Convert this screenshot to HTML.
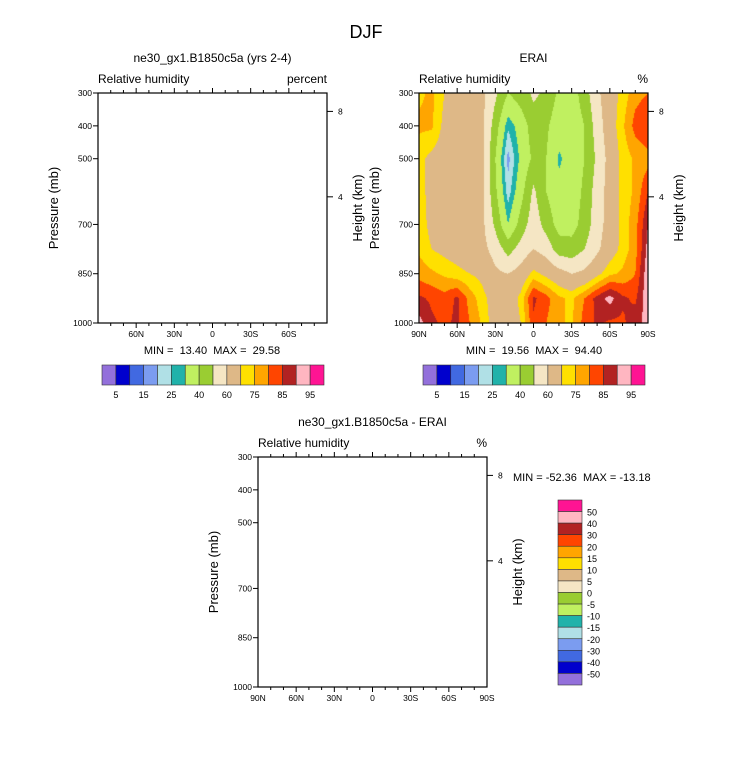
<!DOCTYPE html>
<html><head><meta charset="utf-8">
<style>
body{margin:0;background:#fff;}
svg text{font-family:"Liberation Sans",Arial,sans-serif;fill:#000;}
#wrap{position:relative;width:733px;height:784px;}
canvas{position:absolute;left:419px;top:93px;}
svg{position:absolute;left:0;top:0;}
</style></head>
<body>
<div id="wrap">
<canvas id="cv" width="229" height="230"></canvas>
<svg id="sv" width="733" height="784"></svg>
</div>
<script>
// ---- data ----
const lats = [90,80,70,60,50,40,30,20,10,0,-10,-20,-30,-40,-50,-60,-70,-80,-90];
const levels = [300,400,500,600,700,775,850,925,1000];
const rh300 = [74,76,70,66,62,62,52,40,45,52,48,38,35,45,58,66,72,78,80];
const rh400 = [76,76,68,65,62,62,45,26,34,45,42,33,33,40,55,66,74,82,85];
const rh500 = [72,68,66,64,62,62,40,18,32,42,40,29,33,40,52,64,72,76,78];
const rh600 = [72,68,66,64,62,62,42,22,36,52,40,32,34,42,55,64,72,76,85];
const rh700 = [73,68,66,64,62,62,48,30,44,56,46,36,36,44,56,64,72,78,90];
const rh775 = [74,70,68,66,64,63,56,46,54,60,56,45,44,50,58,66,72,78,92];
const rh850 = [78,76,74,72,70,68,62,60,64,72,68,64,60,62,68,74,76,80,94];
const rh925 = [86,84,82,86,78,72,66,64,72,86,82,76,74,80,87,92,86,84,94];
const rh1000 = [92,86,84,86,80,74,66,64,70,84,80,76,74,82,86,84,84,88,92];
const rhRows = [rh300,rh400,rh500,rh600,rh700,rh775,rh850,rh925,rh1000];
const rhLevels = [5,10,15,20,25,30,40,50,60,70,75,80,85,90,95];
const rhLabels = ["5","15","25","40","60","75","85","95"];
const diffLabels = ["50","40","30","20","15","10","5","0","-5","-10","-15","-20","-30","-40","-50"];
const colors = ["#9370DB","#0000CD","#4169E1","#7B9CF0","#B0E0E6","#20B2AA","#C0F060","#9ACD32","#F5E6C4","#DEB887","#FFE000","#FFA500","#FF4500","#B22222","#FFB6C1","#FF1493"];
const pTicks = [300,400,500,700,850,1000];
const latTickLabels = ["90N","60N","30N","0","30S","60S","90S"];
const latTickVals = [90,60,30,0,-30,-60,-90];
const hTicks = [{v:8,p:356},{v:4,p:616}];

const NS="http://www.w3.org/2000/svg";
const sv=document.getElementById('sv');
function mk(tag,attrs,parent){const e=document.createElementNS(NS,tag);for(const k in attrs)e.setAttribute(k,attrs[k]);(parent||sv).appendChild(e);return e;}
function txt(s,x,y,size,anchor,parent,rot){const t=mk('text',{x:x,y:y,'font-size':size,'text-anchor':anchor||'start'},parent);if(rot)t.setAttribute('transform','rotate(-90 '+x+' '+y+')');t.textContent=s;return t;}

function panel(x0,y0,opts){
  const W=229,H=230;
  const g=mk('g',{});
  
  
  const X=lat=>x0+(90-lat)/180*W;
  const Y=p=>y0+(p-300)/700*H;
  const t1=txt(opts.title,x0+W/2,y0-31,12,'middle',g);
  
  const t2=txt('Relative humidity',x0,y0-10,12,'start',g);
  
  const t3=txt(opts.units,x0+W,y0-10,12,'end',g);
  
  const r=mk('rect',{x:x0,y:y0,width:W,height:H,fill:'none',stroke:'#000','stroke-width':1.2},g);
  
  for(let lat=80;lat>-90;lat-=10){
    const major=lat%30===0;const len=major?5:3;const x=X(lat);
    mk('line',{x1:x,x2:x,y1:y0+H,y2:y0+H+len,stroke:'#000'},g);
    mk('line',{x1:x,x2:x,y1:y0,y2:y0-len,stroke:'#000'},g);
  }
  latTickVals.forEach((v,i)=>{
    if(!opts.showEnds && (v===90||v===-90))return;
    const l=txt(latTickLabels[i],X(v),y0+H+14,8.5,'middle',g);
    
  });
  pTicks.forEach(p=>{
    mk('line',{x1:x0,x2:x0-5,y1:Y(p),y2:Y(p),stroke:'#000'},g);
    const l=txt(String(p),x0-6,Y(p)+3,8.5,'end',g);
    
  });
  hTicks.forEach(h=>{
    const y=Y(h.p);
    mk('line',{x1:x0+W,x2:x0+W+6,y1:y,y2:y,stroke:'#000'},g);
    const l=txt(String(h.v),x0+W+11,y+3,8.5,'start',g);
    
  });
  const ya=txt('Pressure (mb)',x0-40,y0+H/2,13,'middle',g,true);
  
  const yb=txt('Height (km)',x0+W+35,y0+H/2,13,'middle',g,true);
  
  if(opts.minmax){
    const m=txt(opts.minmax,opts.mx,opts.my,11,opts.manchor,g);
    
    m.setAttribute('xml:space','preserve');m.style.whiteSpace='pre';
  }
  return {X,Y};
}

function hbar(x0,y0,name){
  const g=mk('g',{});
  
  const w=222/16;
  colors.forEach((c,i)=>{
    const r=mk('rect',{x:x0+i*w,y:y0,width:w,height:20,fill:c,stroke:'#333','stroke-width':0.6},g);
    
  });
  rhLabels.forEach((s,i)=>{
    const l=txt(s,x0+(2*i+1)*w,y0+33,9,'middle',g);
    
  });
}

const t=txt('DJF',366,38,18,'middle');


panel(98,93,{name:'model-panel',title:'ne30_gx1.B1850c5a (yrs 2-4)',units:'percent',showEnds:false,minmax:'MIN =  13.40  MAX =  29.58',mx:212,my:354,manchor:'middle'});
panel(419,93,{name:'erai-panel',title:'ERAI',units:'%',showEnds:true,minmax:'MIN =  19.56  MAX =  94.40',mx:534,my:354,manchor:'middle'});
panel(258,457,{name:'difference-panel',title:'ne30_gx1.B1850c5a - ERAI',units:'%',showEnds:true,minmax:'MIN = -52.36  MAX = -13.18',mx:513,my:481,manchor:'start'});
hbar(102,365,'model-colorbar');
hbar(423,365,'erai-colorbar');

(function(){
  const g=mk('g',{});
  
  const h=185/16;
  for(let i=0;i<16;i++){
    const r=mk('rect',{x:558,y:500+i*h,width:24,height:h,fill:colors[15-i],stroke:'#333','stroke-width':0.6},g);
    
  }
  diffLabels.forEach((s,i)=>{
    const l=txt(s,587,500+(i+1)*h+4,9,'start',g);
    
  });
})();

(function(){
  const cv=document.getElementById('cv');const ctx=cv.getContext('2d');
  const W=cv.width,H=cv.height;const img=ctx.createImageData(W,H);
  const rgb=colors.map(c=>[parseInt(c.substr(1,2),16),parseInt(c.substr(3,2),16),parseInt(c.substr(5,2),16)]);
  function idx(arr,v){
    const inc=arr[arr.length-1]>arr[0];
    for(let i=0;i<arr.length-1;i++){
      const a=arr[i],b=arr[i+1];
      if(inc? (v>=a&&v<=b):(v<=a&&v>=b)) return i+(v-a)/(b-a);
    }
    return v<(inc?arr[0]:arr[arr.length-1])?(inc?0:arr.length-1):(inc?arr.length-1:0);
  }
  for(let py=0;py<H;py++){
    const p=300+(py+0.5)/H*700;
    const fy=idx(levels,p);const j=Math.min(Math.floor(fy),levels.length-2);const ty=fy-j;
    for(let px=0;px<W;px++){
      const lat=90-(px+0.5)/W*180;
      const fx=idx(lats,lat);const i=Math.min(Math.floor(fx),lats.length-2);const tx=fx-i;
      const v=(rhRows[j][i]*(1-tx)+rhRows[j][i+1]*tx)*(1-ty)+(rhRows[j+1][i]*(1-tx)+rhRows[j+1][i+1]*tx)*ty;
      let k=0;while(k<rhLevels.length&&v>=rhLevels[k])k++;
      const c=rgb[k];const o=(py*W+px)*4;
      img.data[o]=c[0];img.data[o+1]=c[1];img.data[o+2]=c[2];img.data[o+3]=255;
    }
  }
  ctx.putImageData(img,0,0);
})();
</script>
</body></html>
